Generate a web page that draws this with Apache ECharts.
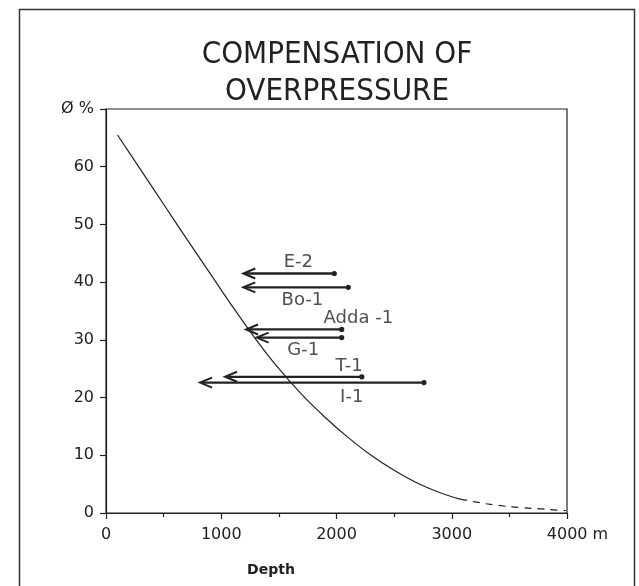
<!DOCTYPE html>
<html>
<head>
<meta charset="utf-8">
<script src="https://cdn.jsdelivr.net/npm/echarts@6/dist/echarts.min.js"></script>
<style>
html,body{margin:0;padding:0;background:#fff;}
#chart{width:639px;height:586px;}
</style>
</head>
<body>
<div id="chart"></div>
<script>
// ---- data ----
const curveDepth = [100, 300, 500, 700, 900, 1100, 1300, 1500, 1700, 1900, 2100, 2300, 2500, 2700, 2900, 3072];
const curvePhi   = [65.5, 59.5, 53.5, 47.5, 41.6, 35.7, 30.1, 25.0, 20.5, 16.6, 13.1, 10.0, 7.4, 5.2, 3.5, 2.4];
const dashDepth  = [3072, 3300, 3500, 3700, 3850, 3990];
const dashPhi    = [2.4, 1.6, 1.1, 0.8, 0.6, 0.4];

const wells      = ['E-2', 'Bo-1', 'Adda -1', 'G-1', 'T-1', 'I-1'];
const wellPhi    = [41.5, 39.1, 31.8, 30.4, 23.6, 22.6];
const fromDepth  = [1981, 2102, 2045, 2045, 2220, 2759];
const toDepth    = [1191, 1191, 1215, 1307, 1033, 816];
const labelDepth = [1669, 1704, 2190, 1712, 2109, 2132];
const labelPhi   = [43.5, 36.8, 33.7, 28.2, 25.4, 20.1];

const xTicks = [0, 1000, 2000, 3000, 4000];
const yTicks = [0, 10, 20, 30, 40, 50, 60, 70];
const yTopLabel = 'Ø %';
const xUnit = 'm';

// ---- chart ----
const FONT = 'DejaVu Sans';
const TITLE_FONT = '"DejaVu Sans Condensed", "Liberation Sans Narrow", "DejaVu Sans"';
const INK = '#222';
const chart = echarts.init(document.getElementById('chart'), null, {renderer: 'canvas'});

const arrowData = wells.map((w, i) => [fromDepth[i], toDepth[i], wellPhi[i], w]);
const labelData = wells.map((w, i) => [labelDepth[i], labelPhi[i], w]);

chart.setOption({
  backgroundColor: '#fff',
  animation: false,
  title: [
    {
      text: 'COMPENSATION OF\nOVERPRESSURE',
      left: 332, top: 31, textAlign: 'center',
      textStyle: {fontFamily: TITLE_FONT, fontSize: 31, fontWeight: 'normal', color: INK, lineHeight: 37}
    },
    {
      text: 'Depth',
      left: 266, top: 558, textAlign: 'center',
      textStyle: {fontFamily: FONT, fontSize: 14, fontWeight: 'bold', color: INK}
    }
  ],
  graphic: [
    {type: 'rect', left: 17, top: 7, silent: true,
     shape: {width: 615, height: 620},
     style: {fill: null, stroke: '#333', lineWidth: 1.5}}
  ],
  grid: {left: 106, right: 72, top: 109, bottom: 73, show: true,
         borderColor: INK, borderWidth: 1.2, backgroundColor: 'transparent'},
  xAxis: {
    type: 'value', min: xTicks[0], max: xTicks[xTicks.length - 1], interval: 1000,
    axisLine: {show: true, lineStyle: {color: INK, width: 1.2}},
    axisTick: {show: true, length: 6, lineStyle: {color: INK, width: 1.2}},
    minorTick: {show: true, splitNumber: 2, length: 4, lineStyle: {color: INK, width: 1.2}},
    splitLine: {show: false},
    axisLabel: {
      margin: 14, fontFamily: FONT, fontSize: 16, color: INK,
      formatter: v => v === xTicks[xTicks.length - 1] ? '{r|' + v + ' ' + xUnit + '}' : String(v),
      rich: {r: {fontFamily: FONT, fontSize: 16, color: INK, padding: [0, 0, 0, 21]}}
    }
  },
  yAxis: {
    type: 'value', min: yTicks[0], max: yTicks[yTicks.length - 1], interval: 10,
    axisLine: {show: true, lineStyle: {color: INK, width: 1.2}},
    axisTick: {show: true, length: 6, lineStyle: {color: INK, width: 1.2}},
    splitLine: {show: false},
    axisLabel: {
      margin: 12, fontFamily: FONT, fontSize: 16, color: INK,
      formatter: v => v === yTicks[yTicks.length - 1] ? yTopLabel : String(v)
    }
  },
  series: [
    {
      type: 'line', smooth: 0.3, symbol: 'none',
      data: curveDepth.map((d, i) => [d, curvePhi[i]]),
      lineStyle: {color: INK, width: 1.2}
    },
    {
      type: 'line', smooth: 0.3, symbol: 'none',
      data: dashDepth.map((d, i) => [d, dashPhi[i]]),
      lineStyle: {color: INK, width: 1.2, type: [7, 6]}
    },
    {
      type: 'custom',
      data: arrowData,
      encode: {x: [0, 1], y: 2},
      renderItem: (params, api) => {
        const y = api.value(2);
        const p0 = api.coord([api.value(0), y]);
        const p1 = api.coord([api.value(1), y]);
        const ah = 12, aw = 5;
        return {
          type: 'group',
          children: [
            {type: 'line', shape: {x1: p0[0], y1: p0[1], x2: p1[0] + 1, y2: p1[1]},
             style: {stroke: INK, lineWidth: 2.3}},
            {type: 'polyline',
             shape: {points: [[p1[0] + ah, p1[1] - aw], [p1[0], p1[1]], [p1[0] + ah, p1[1] + aw]]},
             style: {stroke: INK, lineWidth: 2, fill: null, lineJoin: 'miter'}},
            {type: 'circle', shape: {cx: p0[0], cy: p0[1], r: 2.6}, style: {fill: INK}}
          ]
        };
      }
    },
    {
      type: 'scatter', symbolSize: 1, itemStyle: {color: 'transparent'},
      data: labelData,
      label: {
        show: true, position: 'inside', formatter: p => p.data[2],
        fontFamily: FONT, fontSize: 18, color: INK
      }
    }
  ]
});
</script>
</body>
</html>
